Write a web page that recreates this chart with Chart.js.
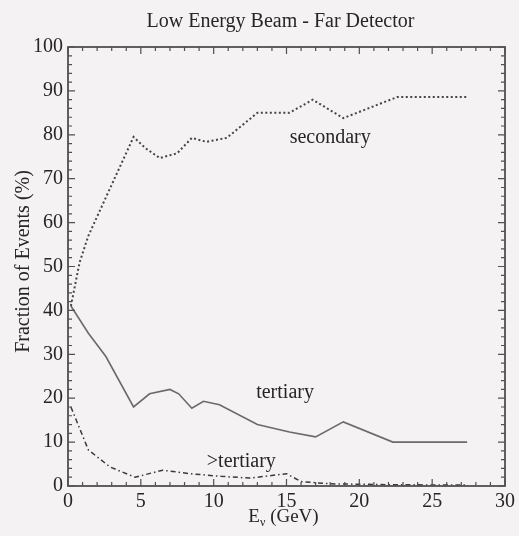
<!DOCTYPE html>
<html>
<head>
<meta charset="utf-8">
<script src="https://cdn.jsdelivr.net/npm/chart.js@4.4.1/dist/chart.umd.min.js"></script>
<style>
    html, body { margin: 0; padding: 0; background: #f4f2f3; }
    #wrap { width: 519px; height: 536px; }
</style>
</head>
<body>
<div id="wrap"><canvas id="chart" width="519" height="536"></canvas></div>
<script>
// 各成分的事件比例 (%) 對 E_ν (GeV)
const secondaryE   = [0.2, 0.8, 1.4, 2.5, 4.5, 5.3, 6.3, 7.5, 8.5, 9.5, 10.9, 13.0, 15.2, 16.8, 18.9, 22.6, 27.4];
const secondaryVal = [41, 51, 57, 65, 79.5, 77, 74.7, 75.8, 79.3, 78.4, 79.3, 85, 85, 88, 83.8, 88.6, 88.6];

const tertiaryE   = [0.2, 1.4, 2.6, 4.5, 5.6, 7.0, 7.6, 8.5, 9.3, 10.4, 13.0, 15.2, 17.0, 18.9, 22.3, 27.4];
const tertiaryVal = [41, 34.8, 29.5, 18, 21, 22, 21, 17.7, 19.3, 18.5, 14, 12.3, 11.2, 14.6, 10, 10];

const higherE   = [0.2, 1.4, 2.9, 4.6, 6.5, 8.4, 10.5, 12.5, 15.0, 16.0, 18.0, 22.0, 27.4];
const higherVal = [18, 8.2, 4.3, 2, 3.6, 2.8, 2.2, 1.8, 2.8, 1, 0.5, 0.3, 0.2];

const xTicks = [0, 5, 10, 15, 20, 25, 30];
const yTicks = [0, 10, 20, 30, 40, 50, 60, 70, 80, 90, 100];

// 曲線旁的文字標籤 (資料座標)
const curveLabels = [
    { text: "secondary", x: 18.0, y: 79.3 },
    { text: "tertiary", x: 14.9, y: 21.2 },
    { text: ">tertiary", x: 11.9, y: 5.5 },
];

const toPoints = (xs, ys) => xs.map((x, i) => ({ x, y: ys[i] }));

const SERIF = "'Liberation Serif', 'DejaVu Serif', serif";
const INK = "#262626";

// 外框、朝內刻度與文字
const framePlugin = {
    id: "frame",
    afterDraw(chart) {
        const { ctx, chartArea: a, scales } = chart;
        const xs = scales.x, ys = scales.y;
        ctx.save();
        ctx.strokeStyle = "#505050";
        ctx.lineWidth = 1.8;
        ctx.strokeRect(a.left, a.top, a.right - a.left, a.bottom - a.top);
        ctx.lineWidth = 1.2;
        ctx.beginPath();
        for (let v = 0; v <= 30; v += 1) {
            const px = xs.getPixelForValue(v);
            const len = v % 5 === 0 ? 7 : 4;
            ctx.moveTo(px, a.bottom); ctx.lineTo(px, a.bottom - len);
            ctx.moveTo(px, a.top); ctx.lineTo(px, a.top + len);
        }
        for (let v = 0; v <= 100; v += 2) {
            const py = ys.getPixelForValue(v);
            const len = v % 10 === 0 ? 7 : 4;
            ctx.moveTo(a.left, py); ctx.lineTo(a.left + len, py);
            ctx.moveTo(a.right, py); ctx.lineTo(a.right - len, py);
        }
        ctx.stroke();

        const cx = (a.left + a.right) / 2;
        ctx.fillStyle = INK;

        // 標題
        ctx.font = "20px " + SERIF;
        ctx.textAlign = "center";
        ctx.textBaseline = "middle";
        ctx.fillText("Low Energy Beam - Far Detector", cx - 6, 22);

        // 曲線標籤
        curveLabels.forEach((l) => {
            ctx.fillText(l.text, xs.getPixelForValue(l.x), ys.getPixelForValue(l.y));
        });

        // x 軸標題 E_ν (GeV)
        const by = 522;
        ctx.textBaseline = "alphabetic";
        ctx.textAlign = "left";
        ctx.font = "19px " + SERIF;
        const wE = ctx.measureText("E").width;
        ctx.font = "12px " + SERIF;
        const wNu = ctx.measureText("ν").width;
        ctx.font = "19px " + SERIF;
        const wRest = ctx.measureText(" (GeV)").width;
        const x0 = cx - 3 - (wE + wNu + wRest) / 2;
        ctx.fillText("E", x0, by);
        ctx.font = "12px " + SERIF;
        ctx.fillText("ν", x0 + wE, by + 4);
        ctx.font = "19px " + SERIF;
        ctx.fillText(" (GeV)", x0 + wE + wNu, by);

        // y 軸標題
        ctx.translate(24, (a.top + a.bottom) / 2 - 5);
        ctx.rotate(-Math.PI / 2);
        ctx.textAlign = "center";
        ctx.textBaseline = "middle";
        ctx.font = "20px " + SERIF;
        ctx.fillText("Fraction of Events (%)", 0, 0);
        ctx.restore();
    },
};

document.addEventListener("DOMContentLoaded", () => {
    const ctx = document.getElementById("chart").getContext("2d");
    new Chart(ctx, {
        type: "line",
        data: {
            datasets: [
                {
                    label: "secondary",
                    data: toPoints(secondaryE, secondaryVal),
                    borderColor: "#454545",
                    borderWidth: 2,
                    borderDash: [2, 2.5],
                },
                {
                    label: "tertiary",
                    data: toPoints(tertiaryE, tertiaryVal),
                    borderColor: "#6a6a6a",
                    borderWidth: 1.6,
                },
                {
                    label: ">tertiary",
                    data: toPoints(higherE, higherVal),
                    borderColor: "#3a3a3a",
                    borderWidth: 1.5,
                    borderDash: [5, 3, 1.5, 3],
                },
            ],
        },
        options: {
            responsive: false,
            animation: false,
            layout: { padding: { left: 0, right: 14, top: 47, bottom: 0 } },
            elements: { point: { radius: 0 }, line: { tension: 0 } },
            plugins: {
                legend: { display: false },
                tooltip: { enabled: false },
                title: { display: false },
            },
            scales: {
                x: {
                    type: "linear",
                    min: 0,
                    max: 30,
                    grid: { display: false, drawTicks: false },
                    border: { display: false },
                    afterFit: (scale) => { scale.height = 50; },
                    afterBuildTicks: (scale) => { scale.ticks = xTicks.map((v) => ({ value: v })); },
                    ticks: {
                        color: INK,
                        padding: 4,
                        maxRotation: 0,
                        font: { family: SERIF, size: 20 },
                    },
                },
                y: {
                    min: 0,
                    max: 100,
                    grid: { display: false, drawTicks: false },
                    border: { display: false },
                    afterFit: (scale) => { scale.width = 68; },
                    afterBuildTicks: (scale) => { scale.ticks = yTicks.map((v) => ({ value: v })); },
                    ticks: {
                        color: INK,
                        padding: 5,
                        font: { family: SERIF, size: 20 },
                    },
                },
            },
        },
        plugins: [framePlugin],
    });
});
</script>
</body>
</html>
